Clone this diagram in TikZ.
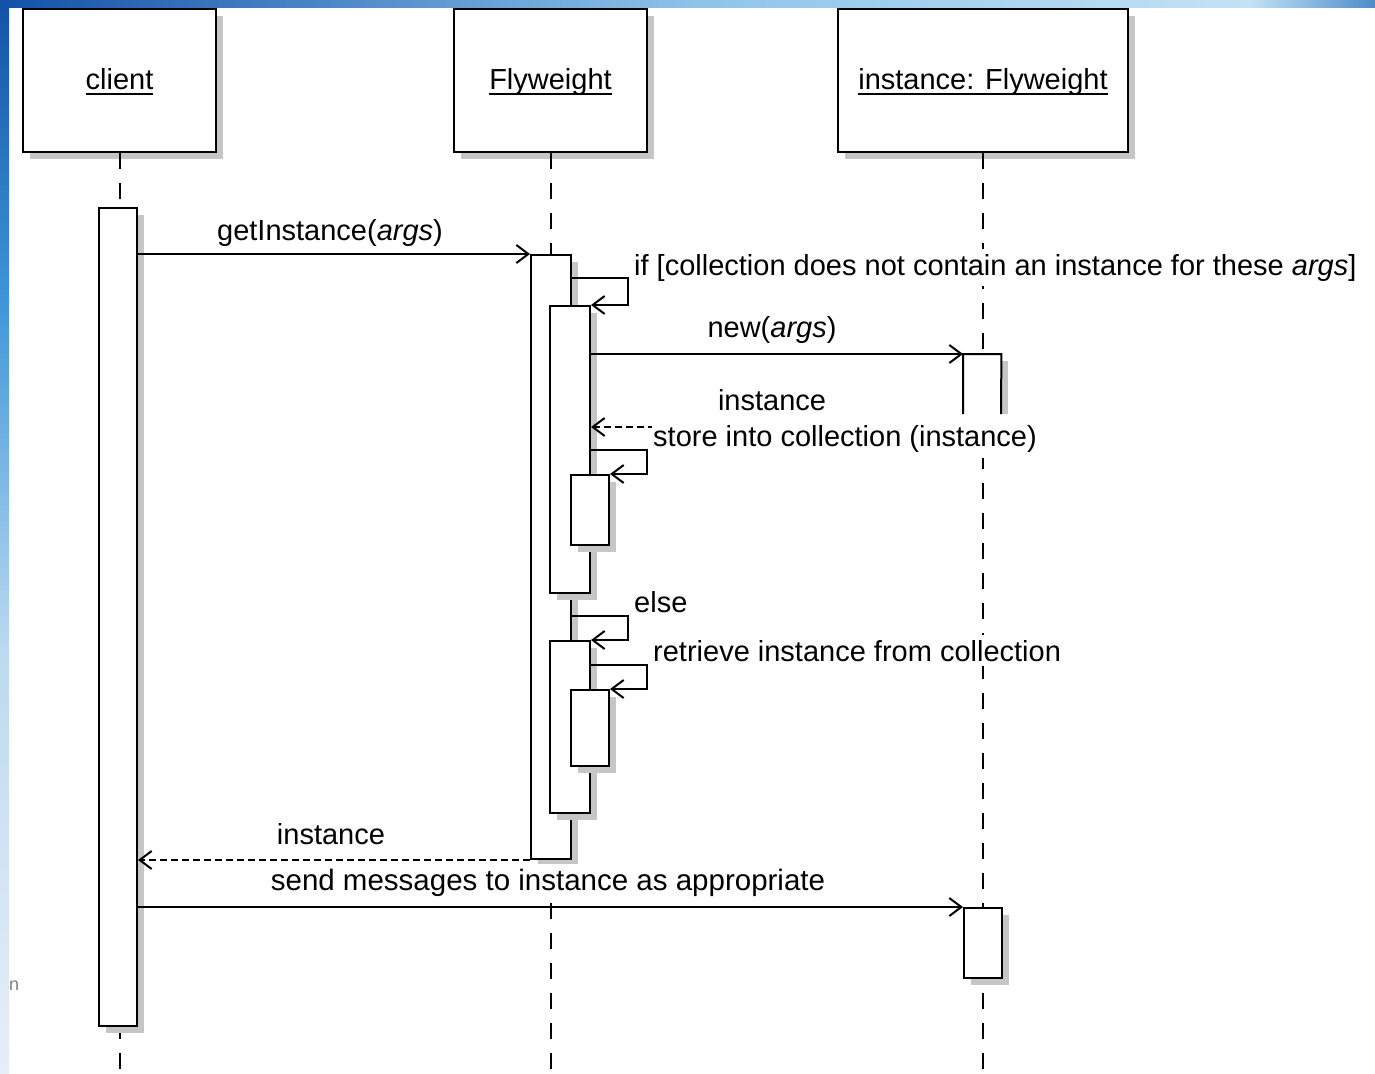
\documentclass[tikz,border=0pt]{standalone}
\usepackage{fontspec}
\setmainfont{Liberation Sans}
\usetikzlibrary{arrows.meta,calc,shadows}

\definecolor{shadowgray}{HTML}{C6C6C6}
\definecolor{blueA}{HTML}{1252A8}
\definecolor{blueB}{HTML}{8EC4EA}
\definecolor{blueC}{HTML}{C4E2F4}
\definecolor{blueD}{HTML}{4C8CCA}
\definecolor{blueE}{HTML}{3F95D8}
\definecolor{blueF}{HTML}{BCDAF0}
\definecolor{blueG}{HTML}{E8EEF8}

% underlined object name with a heavy rule
\newcommand\objname[1]{\setbox0\hbox{#1}\rlap{\rule[-5pt]{\wd0}{2pt}}\box0}

\tikzset{
  txt/.style={font=\fontsize{29}{32}\selectfont, text=black},
  lbl/.style={txt, fill=white, inner xsep=1pt, inner ysep=5pt},
  boxshadow/.style={drop shadow={shadow xshift=7pt, shadow yshift=-7pt, fill=shadowgray, opacity=1}},
  headbox/.style={draw, line width=2pt, fill=white, boxshadow, anchor=north west,
                  minimum height=143pt, inner sep=0pt, txt, text height=21pt, text depth=3pt},
  actbar/.style={draw, line width=2pt, fill=white, boxshadow, anchor=north west, inner sep=0pt},
  lifeline/.style={line width=2pt, dash pattern=on 16pt off 14pt},
  call/.style={line width=2pt, -{Straight Barb[length=12pt,width=18pt]}},
  reply/.style={call, dash pattern=on 7pt off 4pt},
}

\begin{document}
\begin{tikzpicture}[x=1pt, y=-1pt]
  % canvas and slide border
  \useasboundingbox (0,0) rectangle (1375,1073);
  \fill[white] (0,0) rectangle (1375,1073);
  \shade[left color=blueA, right color=blueB] (0,0) rectangle (700,8);
  \shade[left color=blueB, right color=blueC] (699,0) rectangle (1250,8);
  \shade[left color=blueC, right color=blueD] (1249,0) rectangle (1375,8);
  \shade[top color=blueA, bottom color=blueE] (0,0) rectangle (9,300);
  \shade[top color=blueE, bottom color=blueF] (0,299) rectangle (9,650);
  \shade[top color=blueF, bottom color=blueG] (0,649) rectangle (9,1073);
  \node[text=gray, font=\fontsize{18}{20}\selectfont, anchor=base west, inner sep=0pt] (stray) at (9,990) {n};

  \coordinate (bottom) at (0,1073);

  % object heads
  \node[headbox, minimum width=193pt] (hc) at (22,8) {\objname{client}};
  \node[headbox, minimum width=193pt] (hf) at (453,8) {\objname{Flyweight}};
  \node[headbox, minimum width=290pt] (hi) at (837,8) {\objname{instance: Flyweight}};

  % lifelines
  \draw[lifeline] (hc.south) -- (hc.south |- bottom);
  \draw[lifeline] (hf.south) -- (hf.south |- bottom);
  \draw[lifeline] (hi.south) -- (hi.south |- bottom);

  % activation bars
  \node[actbar, minimum width=38pt, minimum height=818pt] (cb) at (98,207) {};
  \node[actbar, minimum width=40pt, minimum height=604pt] (fb) at (530,254) {};
  \node[actbar, minimum width=40pt, minimum height=287pt] (n1) at (549,305) {};
  \node[actbar, minimum width=38pt, minimum height=70pt] (n2) at (570,474) {};
  \node[actbar, minimum width=40pt, minimum height=172pt] (n3) at (549,640) {};
  \node[actbar, minimum width=38pt, minimum height=76pt] (n4) at (570,689) {};
  \node[actbar, minimum width=38pt, minimum height=70pt] (ib2) at (963,907) {};

  % first instance bar, open at the bottom
  \fill[shadowgray] (1001,361) rectangle (1008,414);
  \node[fill=white, anchor=north west, inner sep=0pt, minimum width=38pt, minimum height=80pt] (ib1) at (963,354) {};
  \draw[line width=2pt] (963,414) -- (ib1.north west) -- (ib1.north east) -- (1001,414);

  % messages
  \draw[call] (cb.east |- fb.north) -- (fb.north west);
  \node[lbl, anchor=base] (m1) at (330,240) {getInstance(\textit{args})};

  \coordinate (s1a) at (fb.east |- 0,278);
  \coordinate (s1b) at (628,278);
  \coordinate (s1c) at (628,305);
  \draw[call] (s1a) -- (s1b) -- (s1c) -- (n1.north east);
  \node[lbl, anchor=base west] (m2) at (633,275) {if [collection does not contain an instance for these \textit{args}]};

  \draw[call] (n1.east |- ib1.north) -- (ib1.north west);
  \node[lbl, anchor=base] (m3) at (772,337) {new(\textit{args})};

  \coordinate (r1) at (ib1.west |- 0,427);
  \draw[reply] (r1) -- (n1.east |- r1);
  \node[lbl, anchor=base] (m4) at (772,410) {instance};

  \coordinate (s2a) at (n1.east |- 0,450);
  \coordinate (s2b) at (647,450);
  \coordinate (s2c) at (647,474);
  \draw[call] (s2a) -- (s2b) -- (s2c) -- (n2.north east);
  \node[lbl, anchor=base west, inner ysep=6pt] (m5) at (652,446) {store into collection (instance)};

  \coordinate (s3a) at (fb.east |- 0,616);
  \coordinate (s3b) at (628,616);
  \coordinate (s3c) at (628,640);
  \draw[call] (s3a) -- (s3b) -- (s3c) -- (n3.north east);
  \node[lbl, anchor=base west] (m6) at (633,612) {else};

  \coordinate (s4a) at (n3.east |- 0,665);
  \coordinate (s4b) at (647,665);
  \coordinate (s4c) at (647,689);
  \draw[call] (s4a) -- (s4b) -- (s4c) -- (n4.north east);
  \node[lbl, anchor=base west] (m7) at (652,661) {retrieve instance from collection};

  \draw[reply] (fb.south west) -- (cb.east |- fb.south);
  \node[lbl, anchor=base] (m8) at (331,844) {instance};

  \draw[call] (cb.east |- ib2.north) -- (ib2.north west);
  \node[lbl, anchor=base, font=\fontsize{29.5}{32}\selectfont] (m9) at (548,890) {send messages to instance as appropriate};
\end{tikzpicture}
\end{document}
